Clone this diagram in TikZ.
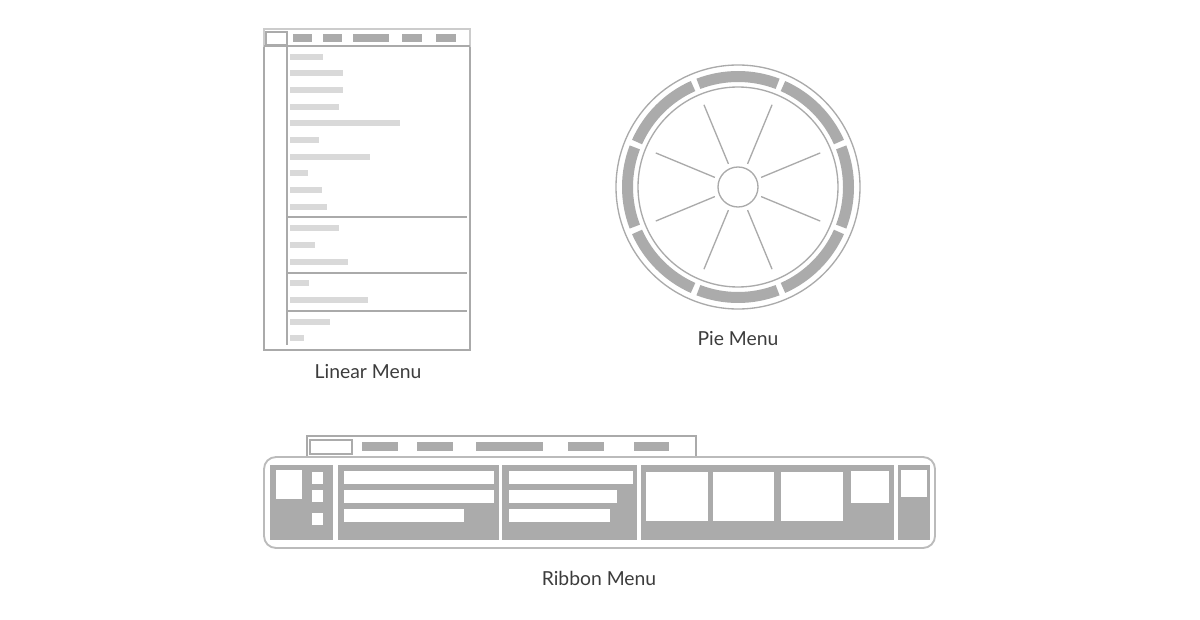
\documentclass[tikz,border=0pt]{standalone}
\usepackage{fontspec}
\setmainfont{Lato}
\usetikzlibrary{calc}
\definecolor{dk}{HTML}{ABABAB}
\definecolor{lt}{HTML}{D9D9D9}
\definecolor{ln}{HTML}{AAAAAA}
\definecolor{tx}{HTML}{3C3C3C}
\begin{document}
\begin{tikzpicture}[x=0.75pt,y=-0.75pt,
  lbl/.style={text=tx,font=\fontsize{14.5}{16}\selectfont}]
\useasboundingbox (0,0) rectangle (1200,620);
% ---------- Linear menu
\draw[ln,line width=1.2pt] (264,29) rectangle (470,350);
\draw[ln!60,line width=0.8pt,fill=white] (264,29) rectangle (470,46);
\draw[ln,line width=1.2pt] (264,46) -- (470,46);
\draw[dk,line width=1.2pt,fill=white] (266,32) rectangle (287,45);
\foreach \a/\b in {293/312,323/342,353/389,402/422,436/456}
  \fill[dk] (\a,34) rectangle (\b,42);
\draw[ln,line width=1pt] (287,46) -- (287,345);
\foreach \y/\w in {57/323,73/343,90/343,107/339,123/400,140/319,157/370,173/308,190/322,207/327,228/339,245/315,262/348,283/309,300/368,322/330,338/304}
  \fill[lt] (290,\y-3) rectangle (\w,\y+3);
\foreach \y in {217,273,311}
  \draw[ln,line width=1pt] (287,\y) -- (467,\y);
\node[lbl] (lin) at (368,372) {Linear Menu};
% ---------- Pie menu
\coordinate (pc) at (738,187);
\draw[ln,line width=1pt] (pc) circle[radius=122];
\foreach \k in {0,...,7}{
  \pgfmathsetmacro\sa{22.5+45*\k+1.5}
  \pgfmathsetmacro\ea{67.5+45*\k-1.5}
  \fill[dk] ($(pc)+(\sa:116)$) arc[start angle=\sa,end angle=\ea,radius=116]
     -- ($(pc)+(\ea:105)$) arc[start angle=\ea,end angle=\sa,radius=105] -- cycle;
  \pgfmathsetmacro\sp{22.5+45*\k}
  \draw[ln,line width=1pt] ($(pc)+(\sp:25)$) -- ($(pc)+(\sp:89)$);
}
\draw[ln,line width=1pt] (pc) circle[radius=100];
\draw[ln,line width=1pt] (pc) circle[radius=20];
\node[lbl] (pie) at (738,339) {Pie Menu};
% ---------- Ribbon menu
\draw[ln,line width=1.2pt,fill=white] (307,436) rectangle (696,457);
\draw[dk,line width=1.2pt,fill=white] (310,440) rectangle (352,454);
\foreach \a/\b in {362/398,417/453,476/543,568/604,634/669}
  \fill[dk] (\a,442) rectangle (\b,451);
\draw[ln!80,line width=1.4pt,rounded corners=9pt,fill=white] (264,457) rectangle (935,548);
\foreach \a/\b in {270/333,338/499,502/637,641/894,898/930}
  \fill[dk] (\a,465) rectangle (\b,540);
\fill[white] (276,470) rectangle (302,499);
\foreach \y in {472,490,513} \fill[white] (312,\y) rectangle (323,\y+12);
\fill[white] (344,471) rectangle (494,484);
\fill[white] (344,490) rectangle (494,503);
\fill[white] (344,509) rectangle (464,522);
\fill[white] (509,471) rectangle (633,484);
\fill[white] (509,490) rectangle (617,503);
\fill[white] (509,509) rectangle (610,522);
\foreach \a/\b in {646/708,713/774,781/843} \fill[white] (\a,472) rectangle (\b,521);
\fill[white] (851,471) rectangle (889,503);
\fill[white] (901,470) rectangle (927,497);
\node[lbl] (rib) at (599,578) {Ribbon Menu};
\end{tikzpicture}
\end{document}
